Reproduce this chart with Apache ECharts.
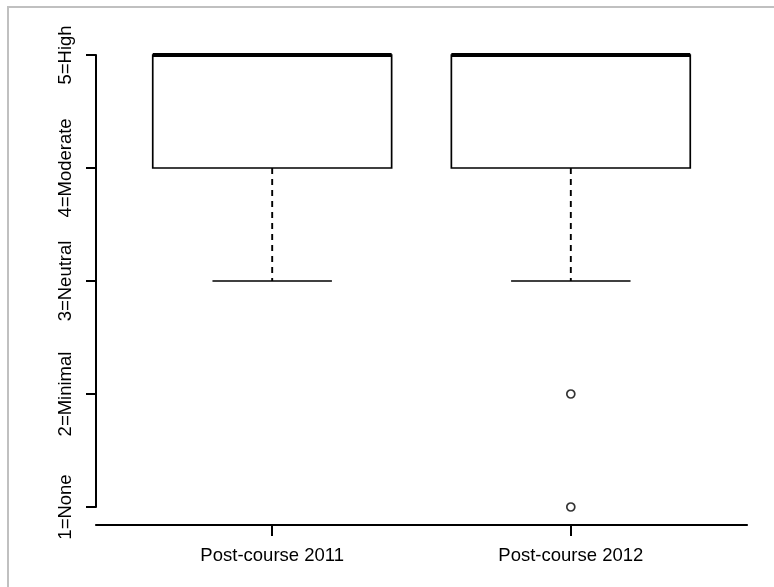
<!DOCTYPE html>
<html>
<head>
<meta charset="utf-8">
<script src="https://cdn.jsdelivr.net/npm/echarts@6/dist/echarts.min.js"></script>
<style>
  html, body { margin: 0; padding: 0; background: #ffffff; }
  #chart { width: 774px; height: 587px; }
</style>
</head>
<body>
<div id="chart"></div>
<script>
// Group names and five-number summaries per group
const categories = ['Post-course 2011', 'Post-course 2012'];
const lowerWhisker = [3, 3];
const lowerQuartile = [4, 4];
const medians = [5, 5];
const upperQuartile = [5, 5];
const upperWhisker = [5, 5];
// Outlying responses: [group index (1-based), value]
const outlierGroups = [2, 2];
const outlierValues = [2, 1];
// Rating scale tick labels
const ratingLabels = ['1=None', '2=Minimal', '3=Neutral', '4=Moderate', '5=High'];

const FONT = '"Liberation Sans", Arial, Helvetica, sans-serif';

const boxData = categories.map((c, i) => [
  i + 1, lowerWhisker[i], lowerQuartile[i], medians[i], upperQuartile[i], upperWhisker[i]
]);
const outlierData = outlierValues.map((v, i) => [outlierGroups[i], v]);

function renderBox(params, api) {
  const x = api.value(0);
  const lo = api.coord([x, api.value(1)]);
  const q1 = api.coord([x, api.value(2)]);
  const med = api.coord([x, api.value(3)]);
  const q3 = api.coord([x, api.value(4)]);
  const hi = api.coord([x, api.value(5)]);
  const boxW = api.size([0.8, 0])[0];
  const capW = api.size([0.4, 0])[0];
  const cx = lo[0];
  const stroke = '#000';
  return {
    type: 'group',
    children: [
      { type: 'line', shape: { x1: cx, y1: q1[1], x2: cx, y2: lo[1] },
        style: { stroke, lineWidth: 1.9, lineDash: [6, 5] } },
      { type: 'line', shape: { x1: cx, y1: q3[1], x2: cx, y2: hi[1] },
        style: { stroke, lineWidth: 1.9, lineDash: [6, 5] } },
      { type: 'line', shape: { x1: cx - capW / 2, y1: lo[1], x2: cx + capW / 2, y2: lo[1] },
        style: { stroke, lineWidth: 1.3 } },
      { type: 'line', shape: { x1: cx - capW / 2, y1: hi[1], x2: cx + capW / 2, y2: hi[1] },
        style: { stroke, lineWidth: 1.3 } },
      { type: 'rect', shape: { x: cx - boxW / 2, y: q3[1], width: boxW, height: q1[1] - q3[1] },
        style: { fill: '#fff', stroke, lineWidth: 1.7 } },
      { type: 'line', shape: { x1: cx - boxW / 2, y1: med[1], x2: cx + boxW / 2, y2: med[1] },
        style: { stroke, lineWidth: 3.8 } }
    ]
  };
}

const chart = echarts.init(document.getElementById('chart'), null, { renderer: 'canvas' });
chart.setOption({
  animation: false,
  backgroundColor: '#ffffff',
  grid: { left: 96, right: 27, top: 55, bottom: 80 },
  xAxis: {
    type: 'value',
    min: 0.41,
    max: 2.59,
    offset: 18,
    splitLine: { show: false },
    axisLine: { show: true, lineStyle: { color: '#000', width: 2.2 } },
    axisTick: { show: true, customValues: [1, 2], length: 11, lineStyle: { color: '#000', width: 2 } },
    axisLabel: {
      customValues: [1, 2],
      formatter: v => categories[Math.round(v) - 1],
      color: '#000', fontSize: 18.5, fontFamily: FONT, margin: 21
    }
  },
  yAxis: {
    type: 'value',
    min: 1,
    max: 5,
    interval: 1,
    splitLine: { show: false },
    axisLine: { show: true, lineStyle: { color: '#000', width: 2 } },
    axisTick: { show: true, length: 10, lineStyle: { color: '#000', width: 2 } },
    axisLabel: {
      rotate: 90,
      formatter: v => ratingLabels[Math.round(v) - 1],
      color: '#000', fontSize: 18.5, fontFamily: FONT, margin: 21
    }
  },
  graphic: [{
    type: 'polyline',
    shape: { points: [[8, 587], [8, 7], [774, 7]] },
    style: { stroke: '#c0c0c0', lineWidth: 2, fill: null },
    silent: true
  }],
  series: [
    {
      type: 'custom',
      renderItem: renderBox,
      data: boxData,
      clip: false,
      encode: { x: 0, y: [1, 2, 3, 4, 5] }
    },
    {
      type: 'scatter',
      data: outlierData,
      symbol: 'circle',
      symbolSize: 8,
      itemStyle: { color: '#fff', borderColor: '#000', borderWidth: 1.7 }
    }
  ]
});
</script>
</body>
</html>
